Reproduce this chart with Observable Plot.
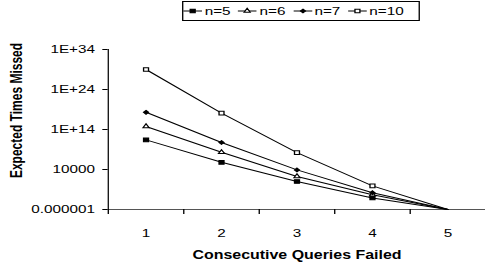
<!DOCTYPE html>
<html>
<head>
<meta charset="utf-8">
<script src="https://cdn.jsdelivr.net/npm/d3@7"></script>
<script src="https://cdn.jsdelivr.net/npm/@observablehq/plot@0.6"></script>
<style>
  html, body { margin: 0; padding: 0; background: #fff; overflow: hidden; }
  #wrap { width: 365px; transform: scaleX(1.3288); transform-origin: 0 0;
          font-family: "Liberation Sans", Arial, sans-serif; color: #000; }
  #legend { margin: 1px 0 1px 137px; width: 177px; height: 18px; border: 1px solid #000;
            display: flex; align-items: center; font-size: 11.5px; box-sizing: content-box; }
  .item { display: flex; align-items: center; margin-right: 5.8px; }
  .item svg { display: block; margin-right: 2px; overflow: visible; }
</style>
</head>
<body>
<div id="wrap">
  <div id="legend"></div>
  <div id="chart"></div>
</div>
<script>
// ---- data ----
const categories = [1, 2, 3, 4, 5];
const seriesNames = ["n=5", "n=6", "n=7", "n=10"];
const n5  = [2.5e11, 6.3e5, 10, 7.9e-4, 1e-6];
const n6  = [5.6e14, 2e8, 178, 5e-3, 1e-6];
const n7  = [2e18, 5.6e10, 8e3, 0.016, 1e-6];
const n10 = [1e29, 1.26e18, 1.6e8, 0.8, 1e-6];
const yTicks = [1e-6, 1e4, 1e14, 1e24, 1e34];
const yTickLabels = ["0.000001", "10000", "1E+14", "1E+24", "1E+34"];
const xTitle = "Consecutive Queries Failed";
const yTitle = "Expected Times Missed";

// ---- styles ----
const seriesValues = [n5, n6, n7, n10];
const markerStyles = [
  {symbol: "square",   fill: "black", r: 2.1},
  {symbol: "triangle", fill: "white", r: 1.7},
  {symbol: "diamond2", fill: "black", r: 1.7},
  {symbol: "square",   fill: "white", r: 2.1}
];

const table = seriesNames.flatMap((s, j) =>
  categories.map((c, i) => ({x: c, y: seriesValues[j][i], series: s})));

const labelOf = new Map(yTicks.map((t, i) => [t, yTickLabels[i]]));

const dotMarks = seriesNames.map((s, j) =>
  Plot.dot(table.filter(d => d.series === s && d.y > yTicks[0]), {
    x: "x", y: "y",
    symbol: () => markerStyles[j].symbol,
    r: markerStyles[j].r,
    fill: markerStyles[j].fill,
    stroke: "black", strokeWidth: 1
  }));

const chart = Plot.plot({
  width: 365, height: 250,
  marginLeft: 81, marginRight: 0, marginTop: 27, marginBottom: 63,
  style: {fontFamily: "Liberation Sans, Arial, sans-serif", fontSize: "11.5px", color: "black", background: "white"},
  x: {domain: [categories[0] - 0.5, categories[categories.length - 1] + 0.5], label: null},
  y: {type: "log", domain: [yTicks[0], yTicks[yTicks.length - 1]], label: null},
  symbol: {type: "identity"},
  marks: [
    Plot.ruleY([yTicks[0]], {stroke: "#555"}),
    Plot.ruleX([categories[0] - 0.5], {stroke: "#111"}),
    Plot.axisY({ticks: yTicks, tickFormat: d => labelOf.get(d) ?? "", tickSize: 4, tickPadding: 6, label: null}),
    Plot.axisX({ticks: categories.map(c => c - 0.5), tickSize: 5, tickFormat: () => "", label: null}),
    Plot.axisX({ticks: categories, tickSize: 0, tickPadding: 19, tickFormat: d => String(d), label: null}),
    Plot.line(table, {x: "x", y: "y", z: "series", stroke: "black", strokeWidth: 1}),
    ...dotMarks,
    Plot.text([xTitle], {text: d => d, frameAnchor: "bottom", textAnchor: "middle", lineAnchor: "middle", dy: 46, fontWeight: "bold", fontSize: 12}),
    Plot.text([yTitle], {text: d => d, frameAnchor: "left", textAnchor: "middle", lineAnchor: "middle", rotate: -90, dx: -69, dy: -19, fontWeight: "bold", fontSize: 12})
  ]
});
document.getElementById("chart").appendChild(chart);

// ---- legend ----
const symMap = {square: d3.symbolSquare, triangle: d3.symbolTriangle, diamond2: d3.symbolDiamond2};
const legend = d3.select("#legend");
seriesNames.forEach((s, j) => {
  const st = markerStyles[j];
  const item = legend.append("div").attr("class", "item");
  const svg = item.append("svg").attr("width", 14).attr("height", 12);
  svg.append("line").attr("x1", 0).attr("x2", 14).attr("y1", 6).attr("y2", 6)
     .attr("stroke", "black").attr("stroke-width", 1);
  svg.append("path")
     .attr("transform", "translate(7,6)")
     .attr("d", d3.symbol(symMap[st.symbol], st.r * st.r * Math.PI)())
     .attr("fill", st.fill).attr("stroke", "black").attr("stroke-width", 1);
  item.append("span").text(s);
});
</script>
</body>
</html>
